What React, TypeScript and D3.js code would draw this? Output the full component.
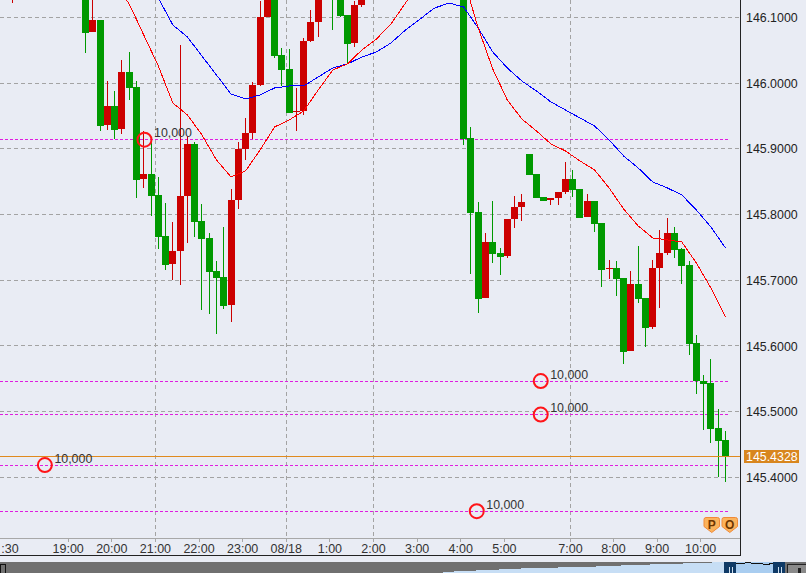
import React from "react"
import * as d3 from "d3"

// 10 minute bars, slot = bar position on the time axis (hidden bars are above the visible range)
const slots = [-10,0,1,2,3,4,5,6,7,8,9,10,11,12,13,14,15,16,17,18,19,20,21,22,23,24,25,26,27,28,29,30,31,32,34,35,36,37,38,52,53,54,55,56,57,58,59,60,61,62,63,64,65,66,67,68,69,70,71,72,73,74,75,76,77,78,79,80,81,82,83,84,85,86,87,88]
const opens = [146.1339,146.1415,146.0776,146.0959,145.9362,145.9651,145.9301,146.0168,145.9940,145.8541,145.8617,145.8297,145.7674,145.7248,145.7446,145.8282,145.9073,145.7902,145.7643,145.7141,145.7050,145.6624,145.8221,145.8997,145.9240,145.9970,146.1004,146.1354,146.0427,146.0214,145.9560,145.9575,146.0639,146.0928,146.1643,146.1385,146.1035,146.0609,146.1187,146.1567,145.9164,145.8039,145.6731,145.7582,145.7415,145.7370,145.7932,145.8115,145.8921,145.8617,145.8267,145.8221,145.8252,145.8343,145.8541,145.8388,145.7963,145.8206,145.7871,145.7172,145.7187,145.7035,145.5925,145.6944,145.6731,145.6290,145.7187,145.7415,145.7719,145.7476,145.7233,145.6046,145.5468,145.5438,145.4754,145.4571]
const highs = [146.1643,146.1567,146.1446,146.0959,146.0031,145.9879,146.0351,146.0472,146.0031,145.9271,145.9134,145.8571,145.8176,145.7887,146.0579,145.9195,145.9103,145.8160,145.7719,145.7293,145.7811,145.8388,145.9103,145.9468,146.0016,146.1248,146.1446,146.1446,146.0533,146.0518,145.9925,146.0685,146.1111,146.1567,146.1719,146.1491,146.1035,146.1248,146.1385,146.1719,145.9331,145.8191,145.7719,145.8206,145.7491,145.7932,145.8282,145.8312,145.8921,145.8617,145.8267,145.8252,145.8343,145.8799,145.8678,145.8388,145.8312,145.8206,145.7871,145.7309,145.7293,145.7035,145.7141,145.7522,145.6731,145.7309,145.7765,145.7948,145.7811,145.7491,145.7293,145.6168,145.5560,145.5803,145.5043,145.4708]
const lows = [146.1217,146.0457,146.0776,145.9271,145.9286,145.9149,145.9225,145.9742,145.8252,145.8404,145.7978,145.7476,145.7157,145.7005,145.6928,145.7567,145.7659,145.6548,145.6487,145.6183,145.6563,145.6366,145.8084,145.8830,145.9149,145.9955,146.1004,146.0381,145.9955,145.9544,145.9271,145.9514,146.0624,146.0700,146.0807,146.1004,146.0305,146.0548,146.1157,145.9058,145.7096,145.6503,145.6731,145.7263,145.7081,145.7339,145.7795,145.7902,145.8601,145.8252,145.8206,145.8145,145.8145,145.8312,145.8267,145.7948,145.7963,145.7735,145.6898,145.7020,145.6761,145.5727,145.5925,145.6655,145.5985,145.6259,145.6579,145.7385,145.7339,145.6944,145.5864,145.5271,145.4723,145.4525,145.4008,145.3932]
const closes = [146.1491,146.0761,146.0959,145.9347,145.9651,145.9286,146.0168,145.9925,145.8525,145.8617,145.8282,145.7659,145.7233,145.7446,145.8282,145.9073,145.7887,145.7628,145.7126,145.7035,145.6609,145.8221,145.8997,145.9240,145.9970,146.1004,146.1354,146.0411,146.0198,145.9544,145.9575,146.0639,146.0928,146.1446,146.1385,146.1020,146.0594,146.1187,146.1339,145.9149,145.8023,145.6716,145.7582,145.7400,145.7354,145.7932,145.8115,145.8191,145.8601,145.8252,145.8206,145.8252,145.8343,145.8541,145.8373,145.7948,145.8206,145.7856,145.7157,145.7187,145.7020,145.5909,145.6944,145.6716,145.6274,145.7187,145.7415,145.7719,145.7461,145.7217,145.6031,145.5468,145.5423,145.4738,145.4556,145.4328]

// moving averages, read every second slot
const fastStart = 4
const fastMa = [146.1537,146.1202,146.0731,146.0259,145.9696,145.9514,145.9210,145.8830,145.8571,145.8662,145.8982,145.9331,145.9438,145.9575,145.9894,146.0198,146.0290,146.0503,146.0670,146.0898,146.1217,146.1567,146.1795,146.1795,146.1582,146.0837,146.0214,145.9742,145.9453,145.9271,145.9073,145.8966,145.8814,145.8678,145.8404,145.8084,145.7826,145.7643,145.7613,145.7582,145.7263,145.6883,145.6442]
const slowStart = 10
const slowMa = [146.1293,146.0883,146.0700,146.0411,146.0122,145.9833,145.9757,145.9818,145.9925,145.9955,145.9955,146.0092,146.0229,146.0290,146.0396,146.0472,146.0609,146.0807,146.0974,146.1141,146.1217,146.1157,146.0837,146.0472,146.0229,146.0031,145.9879,145.9712,145.9590,145.9468,145.9347,145.9134,145.8890,145.8708,145.8495,145.8404,145.8297,145.8069,145.7811,145.7491]

const priceTicks = [146.1, 146.0, 145.9, 145.8, 145.7, 145.6, 145.5, 145.4]
// the first label is cut by the window in the original, only its end shows
const timeLabels = [":30","19:00","20:00","21:00","22:00","23:00","08/18","1:00","2:00","3:00","4:00","5:00","7:00","8:00","9:00","10:00"]
const timeSlots = [-10.4,-2.4,3.6,9.6,15.6,21.6,27.6,33.6,39.6,45.6,51.6,57.6,66.7,72.6,78.6,84.6]
const gridTimes = ["21:00","08/18","2:00","7:00"]

const orderLevels = [145.9138, 145.4186, 145.5464, 145.4955, 145.3484]
const orderSlots = [8.1, -5.6, 62.6, 62.6, 53.8]
const orderLabel = "10,000"
const lastPrice = 145.4328

// overview strip under the chart
const overviewX = [443,487,533,583,633,700,724]
const overviewY = [572,570,568,567,565,563,562]
const navX = [736,742,748,754,760,766,773]
const navY = [563,564,562,564,563,565,563]

const W = 806
const H = 573
const plotRight = 740
const axisY = 538.5
const frameY = 555.5

const x = d3.scaleLinear().domain([0, 88]).range([85.6, 725.4])
const y = d3.scaleLinear().domain([145.4, 146.1]).range([477.3, 17.3])
const snap = (v: number) => Math.floor(v) + 0.5

const RED = "#cc0000"
const GREEN = "#009900"
const FONT = "'Liberation Sans', Arial, sans-serif"

function maPath(values: number[], start: number) {
  const line = d3.line<number>().x((_, i) => x(start + i * 2)).y(d => y(d))
  return line(values) || ""
}

function Candles() {
  return (
    <g shapeRendering="crispEdges">
      {slots.map((s, i) => {
        const up = closes[i] >= opens[i]
        const color = up ? RED : GREEN
        const cx = Math.floor(x(s))
        const top = Math.round(y(Math.max(opens[i], closes[i])))
        const bottom = Math.round(y(Math.min(opens[i], closes[i])))
        const hi = Math.round(y(highs[i]))
        const lo = Math.round(y(lows[i]))
        return (
          <g key={s} fill={color}>
            <rect x={cx} y={hi} width={1} height={lo - hi} />
            <rect x={cx - 3} y={top} width={7} height={Math.max(bottom - top, 1)} />
          </g>
        )
      })}
    </g>
  )
}

function Badge({ left, letter }: { left: number; letter: string }) {
  return (
    <g transform={`translate(${left},517.5)`}>
      <path d="M0,2 Q0,0 2,0 H13.5 Q15.5,0 15.5,2 V9 L7.75,15 L0,9 Z" fill="#fbb35c" stroke="#f08a38" />
      <text x={7.75} y={11} textAnchor="middle" fontSize={12} fontWeight="bold" fill="#6e3500">{letter}</text>
    </g>
  )
}

export default function App() {
  return (
    <svg width={W} height={H} style={{ position: "absolute", left: 0, top: 0, display: "block" }} fontFamily={FONT}>
      <rect width={W} height={H} fill="#e9ecf4" />

      {/* grid */}
      <g stroke="#a3a3a3" strokeDasharray="4 3" shapeRendering="crispEdges">
        {priceTicks.map(p => (
          <line key={p} x1={0} x2={plotRight} y1={snap(y(p))} y2={snap(y(p))} />
        ))}
        {gridTimes.map(t => {
          const px = snap(x(timeSlots[timeLabels.indexOf(t)]))
          return <line key={t} x1={px} x2={px} y1={0} y2={axisY} />
        })}
      </g>

      {/* order levels */}
      <g stroke="#e01ee0" strokeDasharray="3 2" shapeRendering="crispEdges">
        {orderLevels.map(p => (
          <line key={p} x1={0} x2={730} y1={snap(y(p))} y2={snap(y(p))} />
        ))}
      </g>

      <Candles />

      <g fill="none" shapeRendering="crispEdges">
        <path d={maPath(slowMa, slowStart)} stroke="#0000ff" />
        <path d={maPath(fastMa, fastStart)} stroke="#ff0000" />
      </g>

      <line x1={0} x2={plotRight} y1={Math.round(y(lastPrice)) + 0.5} y2={Math.round(y(lastPrice)) + 0.5} stroke="#e08a1e" shapeRendering="crispEdges" />

      {/* order markers */}
      {orderLevels.map((p, i) => {
        const cx = x(orderSlots[i])
        const cy = y(p)
        return (
          <g key={p}>
            <circle cx={cx} cy={cy} r={7} fill="none" stroke="#ff1418" strokeWidth={2} />
            <text x={cx + 9.5} y={cy - 2.5} fontSize={12.4} fill="#333">{orderLabel}</text>
          </g>
        )
      })}

      <Badge left={704} letter="P" />
      <Badge left={722} letter="O" />

      {/* time axis */}
      <line x1={0} x2={plotRight} y1={axisY} y2={axisY} stroke="#a8a8a8" shapeRendering="crispEdges" />
      {timeLabels.map((t, i) => {
        const px = x(timeSlots[i])
        return (
          <g key={t}>
            {i > 0 && <line x1={snap(px)} x2={snap(px)} y1={axisY} y2={axisY + 3} stroke="#a8a8a8" shapeRendering="crispEdges" />}
            <text x={px} y={553} textAnchor="middle" fontSize={12.5} fill="#333">{t}</text>
          </g>
        )
      })}

      {/* price axis */}
      {priceTicks.map(p => (
        <text key={p} x={746} y={y(p) + 4.7} fontSize={12.4} fill="#222">{p.toFixed(4)}</text>
      ))}
      <rect x={744} y={450} width={55} height={13} fill="#d8861e" />
      <text x={746} y={461} fontSize={12.4} fill="#fff">{lastPrice.toFixed(4)}</text>

      {/* frame */}
      <g stroke="#222" shapeRendering="crispEdges">
        <line x1={plotRight + 0.5} x2={plotRight + 0.5} y1={0} y2={frameY} />
        <line x1={0} x2={plotRight + 0.5} y1={frameY} y2={frameY} />
      </g>

      {/* overview strip */}
      <g shapeRendering="crispEdges">
        <rect x={0} y={562} width={W} height={11} fill="#707070" />
        <path
          d={d3.area<number>().x((_, i) => overviewX[i]).y0(H).y1(d => d)(overviewY) || ""}
          fill="#c7def5"
        />
        <rect x={724} y={562} width={12} height={11} fill="#0f3a66" />
        <rect x={736} y={562} width={37} height={11} fill="#a9cdf0" />
        <path d={d3.line<number>().x((_, i) => navX[i]).y(d => d)(navY) || ""} fill="none" stroke="#111" />
        <rect x={773} y={562} width={12} height={11} fill="#0f3a66" />
        <g fill="#cfe0f0">
          <rect x={729} y={567} width={1} height={6} />
          <rect x={732} y={567} width={1} height={6} />
          <rect x={778} y={567} width={1} height={6} />
          <rect x={781} y={567} width={1} height={6} />
        </g>
        <rect x={787.5} y={564.5} width={20} height={10} fill="#8a8a8a" stroke="#222" />
        <rect x={798} y={568} width={3} height={5} fill="#222" />
        <rect x={0.5} y={564.5} width={5} height={10} fill="none" stroke="#111" />
      </g>
    </svg>
  )
}
